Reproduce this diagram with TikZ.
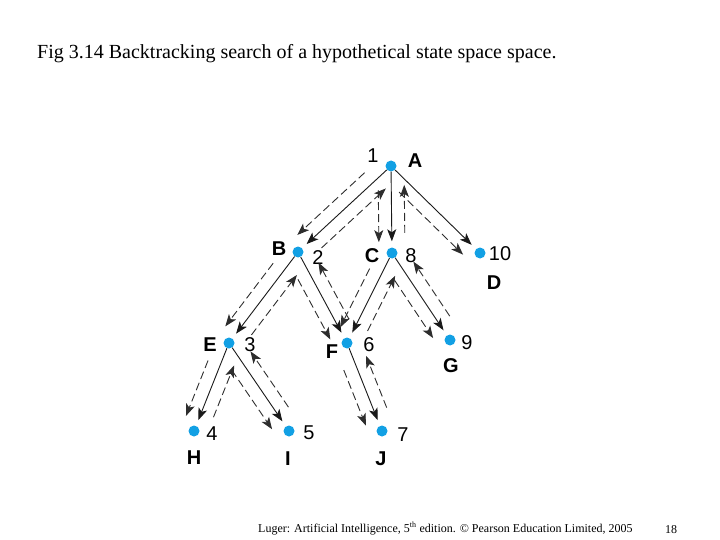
\documentclass[tikz,border=0pt]{standalone}
\usepackage{fontspec}
\setmainfont{Liberation Serif}
\newfontfamily\lblfont{Liberation Sans}
\usetikzlibrary{calc,arrows.meta}
\definecolor{dotblue}{RGB}{18,160,228}
\definecolor{linegray}{RGB}{25,25,25}
\definecolor{dashgray}{RGB}{45,45,45}
\tikzset{
  dot/.style={circle,fill=dotblue,draw=none,minimum size=11pt,inner sep=0pt},
  lett/.style={font=\lblfont\bfseries\fontsize{20}{20}\selectfont,inner sep=0pt,anchor=center},
  numl/.style={font=\lblfont\fontsize{20}{20}\selectfont,inner sep=0pt,anchor=center},
  solidarr/.style={draw=linegray,line width=0.9pt,-{Stealth[length=12pt,width=9pt,inset=3pt]}},
  dasharr/.style={draw=dashgray,line width=0.9pt,dash pattern=on 8pt off 4pt,-{Stealth[length=12pt,width=9pt,inset=3pt]}},
}
\newcommand\solidedge[2]{%
  \draw[solidarr,shorten >=6pt] (#1) -- (#2);}
\newcommand\downdash[2]{%
  \draw[dasharr] ($(#1.center)!24pt!(#2.center)!13pt!-90:(#2.center)$) -- ($(#2.center)!11pt!(#1.center)!13pt!90:(#1.center)$);}
\newcommand\updash[2]{%
  \draw[dasharr] ($(#2.center)!20pt!(#1.center)!13pt!-90:(#1.center)$) -- ($(#1.center)!19pt!(#2.center)!13pt!90:(#2.center)$);}
\newcommand\fulledge[2]{\solidedge{#1}{#2}\downdash{#1}{#2}\updash{#1}{#2}}
\begin{document}
\begin{tikzpicture}[x=1pt,y=-1pt]
\useasboundingbox (0,0) rectangle (720,540);
% title
\node[anchor=base west,inner sep=0pt,font=\fontsize{20}{22}\selectfont] (title) at (37,59) {Fig 3.14 Backtracking search of a hypothetical state space space.};
% dots
\node[dot] (A) at (391,166) {};
\node[dot] (B) at (298,252) {};
\node[dot] (C) at (392,253) {};
\node[dot] (D) at (480,253) {};
\node[dot] (E) at (229,343) {};
\node[dot] (F) at (347,343) {};
\node[dot] (G) at (450,340) {};
\node[dot] (H) at (194,431) {};
\node[dot] (I) at (289,431) {};
\node[dot] (J) at (382,431) {};
% labels
\node[numl] (n1) at (373,156) {1};   \node[lett] (lA) at (415,161) {A};
\node[lett] (lB) at (279,249) {B};   \node[numl] (n2) at (318,258) {2};
\node[lett] (lC) at (372,256) {C};   \node[numl] (n8) at (411,256) {8};
\node[numl] (n10) at (500,254) {10}; \node[lett] (lD) at (494,283) {D};
\node[lett] (lE) at (210,345) {E};   \node[numl] (n3) at (250,345) {3};
\node[lett] (lF) at (332,352) {F};   \node[numl] (n6) at (369,345) {6};
\node[numl] (n9) at (467,343) {9};   \node[lett] (lG) at (451,366) {G};
\node[numl] (n4) at (212,434) {4};   \node[lett] (lH) at (194,458) {H};
\node[numl] (n5) at (309,433) {5};   \node[lett] (lI) at (288,459) {I};
\node[numl] (n7) at (403,435) {7};   \node[lett] (lJ) at (381,459) {J};
% edges
\fulledge{A}{B}
\fulledge{A}{C}
\solidedge{A}{D}\downdash{A}{D}
\fulledge{B}{E}
\fulledge{B}{F}
\fulledge{C}{F}
\fulledge{C}{G}
\fulledge{E}{H}
\fulledge{E}{I}
\fulledge{F}{J}
% footer
\node[anchor=base west,inner sep=0pt,font=\fontsize{12}{14}\selectfont] (foot) at (258,532) {Luger: Artificial Intelligence, 5\textsuperscript{th} edition. \textcopyright{} Pearson Education Limited, 2005};
\node[anchor=base west,inner sep=0pt,font=\fontsize{12}{14}\selectfont] (page) at (665,533) {18};
\end{tikzpicture}
\end{document}
